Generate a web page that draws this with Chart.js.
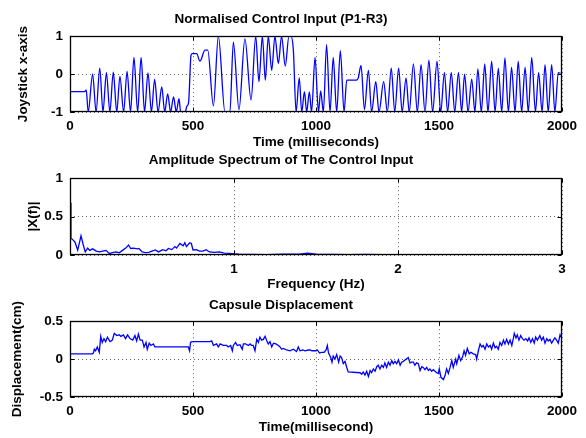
<!DOCTYPE html>
<html>
<head>
<meta charset="utf-8">
<script src="https://cdn.jsdelivr.net/npm/chart.js@4"></script>
<style>
  html, body { margin: 0; padding: 0; background: #fff; }
  canvas { position: absolute; left: 0; }
  #c1 { top: 0; }
  #c2 { top: 150px; }
  #c3 { top: 293px; }
</style>
</head>
<body>
<canvas id="c1" width="586" height="150"></canvas>
<canvas id="c2" width="586" height="143"></canvas>
<canvas id="c3" width="586" height="145"></canvas>
<script>
// Three stacked panels: joystick input, its spectrum, capsule displacement

const BLUE = "#0000ff";
const LINE_W = 1.3;

// ---------- Data ----------
// Panel 1: normalised joystick input, peaks and troughs (ms, value)
const inputTimes = [0, 60, 66, 74, 92, 106, 121, 134, 148, 162, 176, 190, 203, 218, 232, 246, 260, 275, 289, 303,
  317, 331, 344, 358, 373, 385, 397, 409, 421, 432, 443, 450, 468, 475, 482, 492, 497, 515, 528, 549,
  560, 583, 603, 630, 650, 664, 687, 711, 736, 755, 768, 782, 794, 806, 820, 833, 847, 860, 875, 890,
  898, 908, 919, 932, 942, 953, 962, 973, 982, 996, 1010, 1019, 1030, 1043, 1057, 1070, 1084, 1099, 1114, 1125,
  1165, 1172, 1183, 1197, 1213, 1226, 1243, 1256, 1275, 1290, 1306, 1320, 1336, 1350, 1366, 1379, 1396, 1412, 1427, 1443,
  1459, 1474, 1492, 1507, 1522, 1535, 1550, 1564, 1579, 1592, 1604, 1618, 1633, 1646, 1658, 1672, 1686, 1699, 1714, 1728,
  1741, 1755, 1768, 1782, 1795, 1809, 1822, 1836, 1850, 1863, 1877, 1892, 1905, 1919, 1931, 1944, 1958, 1971, 1985, 1994];
const inputValues = [-0.46, -0.46, -0.42, -1, 0.0, -1, 0.16, -1, 0.04, -1, 0.05, -1, -0.06, -1, 0.07, -1, 0.44, -1, 0.44, -1,
  0.03, -1, -0.14, -1, -0.34, -1, -0.52, -1, -0.6, -1, -0.65, -1, -1, -0.85, -0.75, 0.5, 0.54, 0.54, 0.34, 0.63,
  0.63, -0.84, 1, -1, -1, 0.84, -0.94, 0.93, -0.68, 1, -0.2, 1, -0.16, 1, 0.1, 1, 0.28, 1, 0.21, 1,
  1, 0.63, -1, -0.1, -1, -0.46, -1, -0.47, -1, 0.44, -1, -0.44, -1, 0.78, -1, 0.44, -1, 0.62, -1, -0.16,
  -0.16, -0.1, 0.23, -0.94, 0.1, -1, -0.2, -1, -0.2, -1, 0.16, -1, 0.16, -1, -0.11, -1, 0.27, -1, 0.25, -1,
  0.37, -1, 0.34, -1, 0.04, -1, 0.04, -1, 0.04, -1, 0.0, -1, -0.13, -1, 0.14, -1, 0.27, -1, 0.34, -1,
  0.15, -1, 0.43, -1, 0.18, -1, 0.34, -1, 0.18, -1, 0.44, -1, 0.04, -1, 0.25, -1, 0.25, -1, 0.04, 0.02];

// Panel 2: amplitude spectrum (Hz, |X(f)|)
const freqs = [0, 0.006, 0.016, 0.03, 0.047, 0.067, 0.081, 0.093, 0.108, 0.12, 0.138, 0.16, 0.18, 0.2, 0.22, 0.24, 0.26, 0.28, 0.3, 0.32,
  0.34, 0.357, 0.37, 0.388, 0.41, 0.42, 0.44, 0.46, 0.48, 0.5, 0.52, 0.54, 0.565, 0.585, 0.6, 0.62, 0.64, 0.65, 0.67, 0.69,
  0.7, 0.71, 0.73, 0.74, 0.75, 0.77, 0.79, 0.81, 0.83, 0.85, 0.88, 0.91, 0.94, 0.97, 1.0, 1.03, 1.1, 1.2, 1.3, 1.4,
  1.45, 1.5, 1.6, 1.7, 1.8, 1.9, 2.0, 2.2, 2.5, 2.8, 3.0];
const amps = [0.68, 0.22, 0.2, 0.17, 0.064, 0.25, 0.13, 0.04, 0.09, 0.06, 0.08, 0.05, 0.04, 0.05, 0.06, 0.02, 0.03, 0.04, 0.03, 0.06,
  0.09, 0.13, 0.085, 0.09, 0.08, 0.085, 0.04, 0.03, 0.035, 0.05, 0.065, 0.04, 0.07, 0.055, 0.085, 0.07, 0.11, 0.09, 0.15, 0.12,
  0.16, 0.11, 0.16, 0.15, 0.065, 0.07, 0.05, 0.05, 0.07, 0.04, 0.035, 0.04, 0.025, 0.02, 0.015, 0.01, 0.008, 0.006, 0.01, 0.012,
  0.025, 0.01, 0.008, 0.006, 0.008, 0.005, 0.004, 0.003, 0.002, 0.002, 0.002];

// Panel 3: capsule displacement (ms, cm)
const dispTimes = [0, 91, 95, 99, 104, 111, 119, 125, 131, 138, 145, 152, 163, 172, 180, 190, 199, 207, 217, 226,
  234, 244, 255, 264, 271, 278, 285, 294, 301, 309, 314, 322, 329, 339, 345, 352, 481, 486, 490, 495,
  569, 576, 583, 596, 603, 610, 623, 637, 643, 653, 660, 664, 673, 680, 691, 700, 705, 714, 725, 732,
  738, 745, 752, 759, 766, 772, 779, 786, 793, 799, 806, 813, 820, 827, 837, 847, 854, 860, 867, 881,
  894, 908, 921, 928, 935, 946, 955, 969, 976, 983, 990, 1000, 1006, 1014, 1023, 1033, 1041, 1046, 1051, 1060,
  1065, 1070, 1077, 1084, 1092, 1098, 1104, 1111, 1118, 1125, 1131, 1179, 1186, 1192, 1199, 1206, 1213, 1220, 1226, 1233,
  1240, 1247, 1253, 1260, 1267, 1274, 1280, 1287, 1294, 1301, 1308, 1314, 1321, 1328, 1335, 1342, 1348, 1355, 1375, 1382,
  1389, 1396, 1402, 1409, 1416, 1423, 1430, 1436, 1443, 1450, 1457, 1463, 1470, 1477, 1484, 1491, 1497, 1501, 1508, 1518,
  1525, 1531, 1538, 1545, 1552, 1558, 1568, 1572, 1581, 1588, 1596, 1602, 1608, 1615, 1623, 1630, 1639, 1649, 1653, 1660,
  1667, 1674, 1680, 1687, 1694, 1701, 1708, 1714, 1721, 1728, 1734, 1741, 1748, 1755, 1762, 1768, 1775, 1782, 1789, 1796,
  1802, 1806, 1813, 1818, 1825, 1832, 1839, 1846, 1853, 1860, 1866, 1873, 1880, 1887, 1893, 1900, 1910, 1917, 1924, 1931,
  1938, 1944, 1951, 1958, 1965, 1971, 1978, 1985, 1992, 1996];
const dispValues = [0.07, 0.07, 0.08, 0.13, 0.11, 0.16, 0.09, 0.30, 0.22, 0.27, 0.23, 0.29, 0.23, 0.25, 0.34, 0.31, 0.32, 0.30, 0.32, 0.27,
  0.32, 0.27, 0.25, 0.31, 0.24, 0.33, 0.25, 0.25, 0.16, 0.22, 0.13, 0.21, 0.18, 0.20, 0.16, 0.16, 0.16, 0.11, 0.22, 0.23,
  0.23, 0.24, 0.18, 0.20, 0.16, 0.20, 0.18, 0.18, 0.16, 0.18, 0.11, 0.18, 0.22, 0.18, 0.19, 0.13, 0.20, 0.20, 0.18, 0.20,
  0.18, 0.18, 0.11, 0.26, 0.22, 0.29, 0.25, 0.26, 0.30, 0.25, 0.20, 0.23, 0.16, 0.21, 0.20, 0.18, 0.16, 0.13, 0.14, 0.12,
  0.11, 0.13, 0.10, 0.16, 0.11, 0.12, 0.11, 0.12, 0.12, 0.11, 0.11, 0.11, 0.12, 0.08, 0.09, 0.09, 0.12, 0.18, 0.08, 0.02,
  -0.04, 0.04, 0.00, 0.06, -0.04, 0.04, 0.02, -0.06, -0.03, -0.11, -0.17, -0.18, -0.20, -0.17, -0.21, -0.16, -0.23, -0.15, -0.18, -0.13,
  -0.16, -0.10, -0.08, -0.13, -0.08, -0.11, -0.05, -0.11, -0.04, -0.08, -0.02, -0.06, -0.03, -0.06, -0.01, -0.08, -0.04, -0.03, 0.02, -0.05,
  -0.04, -0.04, -0.08, -0.05, -0.06, -0.15, -0.10, -0.11, -0.14, -0.11, -0.15, -0.13, -0.16, -0.14, -0.16, -0.18, -0.19, -0.13, -0.24, -0.27,
  -0.21, -0.13, -0.19, -0.11, -0.02, -0.11, 0.00, -0.06, 0.05, -0.02, 0.03, 0.11, 0.05, 0.14, 0.07, 0.09, 0.07, 0.06, 0.00, 0.11,
  0.20, 0.16, 0.18, 0.13, 0.20, 0.16, 0.18, 0.13, 0.21, 0.15, 0.17, 0.13, 0.22, 0.18, 0.25, 0.20, 0.26, 0.20, 0.25, 0.18,
  0.27, 0.34, 0.28, 0.32, 0.25, 0.31, 0.27, 0.25, 0.27, 0.24, 0.28, 0.22, 0.27, 0.21, 0.29, 0.25, 0.31, 0.25, 0.29, 0.21,
  0.27, 0.24, 0.26, 0.21, 0.25, 0.28, 0.25, 0.21, 0.32, 0.29];

// ---------- Shared styling ----------
Chart.defaults.font.family = "'Liberation Sans', Arial, sans-serif";
Chart.defaults.font.size = 13.5;
Chart.defaults.font.weight = "bold";
Chart.defaults.color = "#000";

const toXY = (xs, ys) => xs.map((x, i) => ({ x, y: ys[i] }));
const plainTick = (v) => String(v);

// MATLAB-like closed box with inward tick marks
const boxPlugin = {
  id: "box",
  afterDraw(chart) {
    const { ctx, chartArea: a, scales } = chart;
    const L = Math.round(a.left) + 0.5, R = Math.round(a.right) - 0.5;
    const T = Math.round(a.top) + 0.5, B = Math.round(a.bottom) - 0.5;
    ctx.save();
    ctx.strokeStyle = "#000";
    ctx.lineWidth = 1;
    ctx.beginPath();
    scales.x.ticks.forEach(t => {
      const px = Math.round(scales.x.getPixelForValue(t.value)) + 0.5;
      ctx.moveTo(px, B); ctx.lineTo(px, B - 4);
      ctx.moveTo(px, T); ctx.lineTo(px, T + 4);
    });
    scales.y.ticks.forEach(t => {
      const py = Math.round(scales.y.getPixelForValue(t.value)) + 0.5;
      ctx.moveTo(L, py); ctx.lineTo(L + 4, py);
      ctx.moveTo(R, py); ctx.lineTo(R - 4, py);
    });
    ctx.stroke();
    ctx.lineWidth = 1.3;
    ctx.strokeRect(L, T, R - L, B - T);
    ctx.restore();
  }
};

const gridOpts = { color: "#666", lineWidth: 1, drawTicks: false };
const borderOpts = { display: false, dash: [1, 3] };

function makeOpts({ titleText, titlePad, xMin, xMax, xStep, xTitle, xTitlePad, xHeight, xCallback,
                    yMin, yMax, yStep, yTitle, yTitlePad }) {
  return {
    responsive: false,
    animation: false,
    devicePixelRatio: 1,
    layout: { padding: { left: 0, right: 24, top: 0, bottom: 0 } },
    plugins: {
      legend: { display: false },
      tooltip: { enabled: false },
      title: { display: true, text: titleText, padding: titlePad, font: { size: 13.5, weight: "bold" }, color: "#000" },
    },
    scales: {
      x: {
        type: "linear", min: xMin, max: xMax,
        ticks: { stepSize: xStep, padding: 6, callback: xCallback || plainTick, maxRotation: 0 },
        grid: gridOpts, border: borderOpts,
        title: { display: true, text: xTitle, padding: { top: 0, bottom: xTitlePad } },
        afterFit: (s) => { s.height = xHeight; },
      },
      y: {
        type: "linear", min: yMin, max: yMax,
        ticks: { stepSize: yStep, padding: 7, callback: plainTick },
        grid: gridOpts, border: borderOpts,
        title: { display: true, text: yTitle, padding: { top: yTitlePad, bottom: 0 } },
        afterFit: (s) => { s.width = 70; },
      },
    },
  };
}

// ---------- Panel 1 ----------
new Chart(document.getElementById("c1"), {
  type: "line",
  data: { datasets: [{ data: toXY(inputTimes, inputValues), borderColor: BLUE, borderWidth: LINE_W, pointRadius: 0,
    cubicInterpolationMode: "monotone", fill: false }] },
  options: makeOpts({
    titleText: "Normalised Control Input (P1-R3)", titlePad: { top: 11, bottom: 9 },
    xMin: 0, xMax: 2000, xStep: 500, xTitle: "Time (milliseconds)", xTitlePad: 0, xHeight: 38,
    yMin: -1, yMax: 1, yStep: 1, yTitle: "Joystick x-axis", yTitlePad: 15,
  }),
  plugins: [boxPlugin],
});

// ---------- Panel 2 ----------
new Chart(document.getElementById("c2"), {
  type: "line",
  data: { datasets: [{ data: toXY(freqs, amps), borderColor: BLUE, borderWidth: LINE_W, pointRadius: 0, fill: false }] },
  options: makeOpts({
    titleText: "Amplitude Spectrum of The Control Input", titlePad: { top: 2, bottom: 10 },
    xMin: 0, xMax: 3, xStep: 1, xTitle: "Frequency (Hz)", xTitlePad: 1, xHeight: 38,
    xCallback: (v) => (v === 0 ? "" : String(v)),
    yMin: 0, yMax: 1, yStep: 0.5, yTitle: "|X(f)|", yTitlePad: 25,
  }),
  plugins: [boxPlugin],
});

// ---------- Panel 3 ----------
new Chart(document.getElementById("c3"), {
  type: "line",
  data: { datasets: [{ data: toXY(dispTimes, dispValues), borderColor: BLUE, borderWidth: LINE_W, pointRadius: 0, fill: false }] },
  options: makeOpts({
    titleText: "Capsule Displacement", titlePad: { top: 4, bottom: 8 },
    xMin: 0, xMax: 2000, xStep: 500, xTitle: "Time(millisecond)", xTitlePad: 3, xHeight: 41,
    yMin: -0.5, yMax: 0.5, yStep: 0.5, yTitle: "Displacement(cm)", yTitlePad: 9,
  }),
  plugins: [boxPlugin],
});
</script>
</body>
</html>
